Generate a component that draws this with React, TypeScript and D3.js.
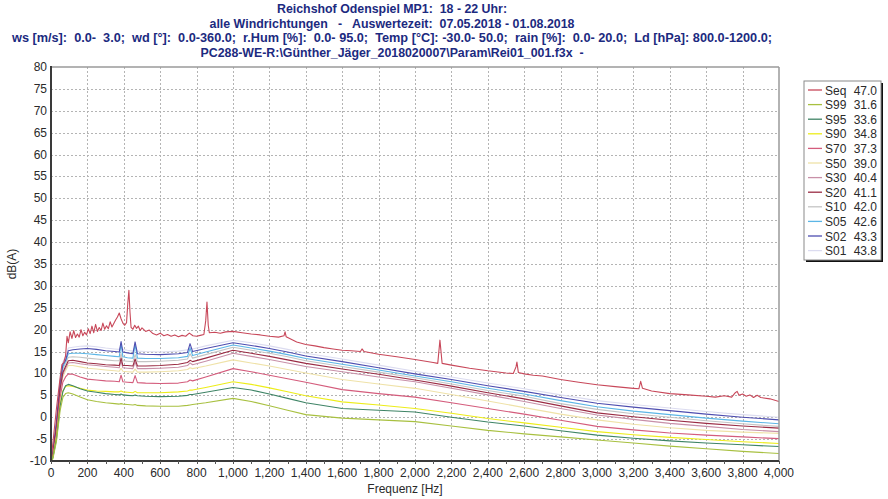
import React from 'react';
import * as d3 from 'd3';

const titleLines = [
  'Reichshof Odenspiel MP1:  18 - 22 Uhr:',
  'alle Windrichtungen   -   Auswertezeit:  07.05.2018 - 01.08.2018',
  'ws [m/s]:  0.0-  3.0;  wd [°]:  0.0-360.0;  r.Hum [%]:  0.0- 95.0;  Temp [°C]: -30.0- 50.0;  rain [%]:  0.0- 20.0;  Ld [hPa]: 800.0-1200.0;',
  'PC288-WE-R:\\Günther_Jäger_2018020007\\Param\\Rei01_001.f3x  -',
];
const titleWidths = [230, 365, 760, 383];

const xTicks = [0, 200, 400, 600, 800, 1000, 1200, 1400, 1600, 1800, 2000, 2200, 2400, 2600, 2800, 3000, 3200, 3400, 3600, 3800, 4000];
const yTicks = [-10, -5, 0, 5, 10, 15, 20, 25, 30, 35, 40, 45, 50, 55, 60, 65, 70, 75, 80];

const freqs = [0, 10, 30, 50, 65, 80, 95, 120, 160, 200, 250, 300, 350, 375, 385, 395, 420, 450, 462, 475, 520, 600, 700, 750, 764, 778, 850, 1000, 1100, 1200, 1300, 1400, 1600, 1800, 2000, 2200, 2400, 2600, 2800, 3000, 3200, 3400, 3600, 3800, 4000];

const seqFreqs = [0, 10, 30, 50, 60, 70, 80, 88, 95, 105, 115, 125, 135, 145, 155, 165, 175, 185, 195, 205, 215, 225, 235, 245, 255, 265, 275, 285, 295, 305, 315, 325, 335, 345, 355, 365, 375, 385, 395, 405, 415, 422, 428, 434, 440, 450, 460, 470, 480, 490, 500, 520, 540, 560, 580, 600, 620, 640, 660, 680, 700, 720, 740, 760, 780, 800, 820, 840, 850, 857, 864, 870, 900, 930, 960, 1000, 1050, 1100, 1150, 1200, 1250, 1280, 1286, 1292, 1350, 1400, 1450, 1500, 1550, 1600, 1650, 1700, 1709, 1720, 1800, 1900, 2000, 2100, 2125, 2137, 2149, 2200, 2300, 2400, 2500, 2540, 2555, 2560, 2568, 2600, 2650, 2700, 2800, 2900, 3000, 3100, 3200, 3230, 3240, 3250, 3300, 3400, 3500, 3600, 3650, 3700, 3740, 3760, 3770, 3780, 3800, 3820, 3840, 3860, 3880, 3900, 3950, 4000];
const seqValues = [-10, -6, 2, 9, 12, 12.5, 14, 18.5, 17, 19.5, 18, 19.8, 18.2, 19, 18.3, 20, 18.6, 19.4, 18.8, 20.2, 19.1, 20.8, 19.3, 21.2, 19.6, 20.5, 19.8, 21.5, 20.1, 20.9, 20.2, 21.8, 20.6, 21.4, 22.2, 22.9, 23.8, 22.5, 21.5, 21.0, 21.6, 26, 29, 24, 20.5, 20.1, 21.0, 20.3, 20.8, 19.8, 20.4, 19.6, 19.9, 19.1, 18.8, 19.2, 18.6, 18.9, 18.5, 18.8, 18.4, 18.7, 18.5, 19.2, 18.6, 18.5, 18.7, 18.9, 22, 26.3, 21, 19.3, 19.4, 19.2, 19.5, 19.6, 19.3, 19.0, 18.8, 18.5, 18.3, 18.6, 19.5, 18.4, 17.2, 16.6, 16.3, 15.9, 15.6, 15.3, 15.2, 15.0, 15.6, 15.0, 14.4, 13.8, 13.2, 12.5, 12.3, 17.6, 12.3, 11.9, 11.2, 10.6, 10.1, 10.0, 11.5, 12.6, 10.2, 9.9, 9.6, 9.4, 8.6, 8.0, 7.4, 7.0, 6.6, 6.5, 8.2, 6.6, 6.0, 5.4, 5.1, 4.8, 4.6, 4.9, 4.6, 5.6, 5.9, 5.0, 5.3, 4.8, 5.1, 4.5, 5.0, 4.5, 4.2, 3.6];

const s01 = [-10, -7.8, -0.6, 8.5, 12.6, 13.8, 15.8, 16.0, 16.2, 16.3, 16.1, 15.8, 15.6, 15.5, 16.4, 15.5, 15.3, 15.1, 16.2, 15.1, 15.0, 14.9, 15.1, 15.4, 16.0, 15.6, 16.3, 17.6, 17.0, 16.3, 15.5, 14.6, 13.3, 11.9, 10.5, 9.2, 7.8, 6.5, 5.1, 3.8, 2.9, 2.1, 1.3, 0.6, 0.0];
const s02 = [-10, -8, -1, 8, 12, 13, 15.2, 15.4, 15.6, 15.7, 15.5, 15.2, 15.0, 14.9, 17.3, 14.9, 14.7, 14.5, 17.2, 14.5, 14.4, 14.3, 14.5, 14.8, 16.8, 15.0, 15.7, 17.0, 16.4, 15.7, 14.9, 14.0, 12.7, 11.3, 9.9, 8.6, 7.2, 5.9, 4.5, 3.2, 2.3, 1.5, 0.7, 0.0, -0.6];
const s05 = [-10, -8.2, -1.5, 7.5, 11.5, 12.8, 14.5, 14.6, 14.6, 14.5, 14.3, 14.1, 13.9, 13.8, 16.8, 13.8, 13.6, 13.5, 16.6, 13.5, 13.4, 13.4, 13.6, 13.9, 15.8, 14.1, 14.9, 16.5, 15.8, 15.1, 14.3, 13.4, 12.1, 10.8, 9.4, 8.1, 6.6, 5.3, 3.8, 2.4, 1.4, 0.6, -0.2, -0.9, -1.5];
const s10 = [-10, -8.3, -1.8, 7.2, 11.0, 12.3, 13.7, 13.8, 13.7, 13.5, 13.3, 13.1, 12.9, 12.9, 14.5, 12.9, 12.8, 12.7, 14.3, 12.7, 12.7, 12.8, 13.0, 13.3, 14.5, 13.5, 14.3, 16.0, 15.3, 14.6, 13.8, 12.9, 11.6, 10.3, 9.0, 7.6, 6.1, 4.8, 3.1, 1.8, 0.8, 0.0, -0.8, -1.5, -2.1];
const s20 = [-10, -8.5, -2.2, 6.5, 10.2, 11.6, 12.9, 13.0, 12.7, 12.4, 12.2, 12.0, 11.9, 11.8, 13.5, 11.8, 11.8, 11.7, 13.3, 11.7, 11.7, 11.8, 12.1, 12.5, 13.0, 12.7, 13.5, 15.3, 14.6, 13.9, 13.1, 12.3, 11.0, 9.8, 8.5, 7.1, 5.6, 4.2, 2.6, 1.0, 0.1, -0.7, -1.4, -2.0, -2.5];
const s30 = [-10, -8.6, -2.5, 6.0, 9.8, 11.2, 12.4, 12.5, 12.2, 12.0, 11.8, 11.6, 11.4, 11.3, 12.8, 11.3, 11.2, 11.1, 12.6, 11.1, 11.1, 11.2, 11.4, 11.8, 12.4, 12.0, 12.8, 14.6, 13.9, 13.2, 12.4, 11.6, 10.4, 9.2, 8.1, 6.6, 5.1, 3.6, 2.0, 0.5, -0.5, -1.4, -2.1, -2.8, -3.3];
const s50 = [-10, -8.8, -3.0, 5.5, 9.2, 10.6, 11.8, 11.8, 11.5, 11.2, 11.0, 10.8, 10.6, 10.5, 11.2, 10.5, 10.4, 10.3, 11.0, 10.3, 10.3, 10.4, 10.6, 10.9, 11.3, 11.1, 11.7, 13.1, 12.4, 11.7, 10.9, 10.1, 8.6, 7.6, 6.6, 5.2, 3.7, 2.2, 0.7, -0.6, -1.6, -2.4, -3.0, -3.4, -3.7];
const s70 = [-10, -9.0, -3.8, 4.5, 8.0, 9.2, 9.9, 9.8, 9.2, 8.7, 8.5, 8.3, 8.2, 8.1, 9.6, 8.1, 8.0, 7.9, 9.5, 7.9, 7.8, 7.7, 7.8, 8.1, 8.5, 8.3, 9.2, 11.1, 10.4, 9.6, 8.8, 8.0, 6.3, 5.4, 4.6, 3.3, 2.0, 0.7, -0.7, -2.1, -2.9, -3.6, -4.1, -4.5, -4.9];
const s90 = [-10, -9.2, -4.5, 3.0, 6.0, 7.0, 7.2, 7.0, 6.6, 6.2, 6.0, 5.9, 5.8, 5.8, 6.0, 5.8, 5.7, 5.6, 5.9, 5.6, 5.6, 5.6, 5.8, 6.0, 6.2, 6.2, 6.8, 8.1, 7.5, 6.7, 5.8, 4.9, 3.5, 2.8, 2.0, 0.9, -0.3, -1.3, -2.3, -3.3, -4.0, -4.6, -5.1, -5.6, -6.0];
const s95 = [-10, -9.3, -5.0, 2.5, 5.8, 7.2, 7.5, 7.2, 6.5, 6.0, 5.7, 5.4, 5.2, 5.1, 5.3, 5.1, 5.0, 4.9, 5.1, 4.9, 4.8, 4.7, 4.8, 5.0, 5.2, 5.2, 5.7, 6.8, 6.2, 5.3, 4.3, 3.3, 2.0, 1.6, 1.2, 0.0, -1.1, -2.0, -3.1, -4.1, -4.8, -5.4, -5.9, -6.3, -6.7];
const s99 = [-10, -9.5, -5.5, 1.5, 4.5, 5.4, 5.6, 5.3, 4.6, 4.0, 3.6, 3.3, 3.1, 3.0, 3.1, 3.0, 2.9, 2.8, 2.9, 2.7, 2.6, 2.5, 2.5, 2.7, 2.8, 2.9, 3.3, 4.3, 3.6, 2.6, 1.6, 0.6, -0.2, -0.6, -1.0, -2.0, -3.0, -3.8, -4.5, -5.2, -5.9, -6.6, -7.2, -7.8, -8.3];

const legendNames = ['Seq', 'S99', 'S95', 'S90', 'S70', 'S50', 'S30', 'S20', 'S10', 'S05', 'S02', 'S01'];
const legendTotals = ['47.0', '31.6', '33.6', '34.8', '37.3', '39.0', '40.4', '41.1', '42.0', '42.6', '43.3', '43.8'];
const legendColors = ['#c8485a', '#a8c040', '#3f8466', '#eded1a', '#d45c7c', '#efe2a8', '#c890a8', '#9a2c44', '#c4c4c4', '#5cb6e6', '#4e4eb0', '#dcdcf0'];

const bandValues: Record<string, number[]> = {
  S01: s01, S02: s02, S05: s05, S10: s10, S20: s20, S30: s30,
  S50: s50, S70: s70, S90: s90, S95: s95, S99: s99,
};
const drawOrder = ['S01', 'S10', 'S50', 'S05', 'S30', 'S02', 'S20', 'S70', 'S90', 'S95', 'S99'];

export default function App() {
  const left = 51, right = 779, top = 67, bottom = 461;
  const x = d3.scaleLinear().domain([0, 4000]).range([left, right]);
  const y = d3.scaleLinear().domain([-10, 80]).range([bottom, top]);
  const line = d3.line<[number, number]>().x(d => x(d[0])).y(d => y(d[1]));
  const fmt = d3.format(',');
  const colorOf = (n: string) => legendColors[legendNames.indexOf(n)];
  const minorTicks = d3.range(0, 4001, 100);

  const font = 'Arial, "Liberation Sans", sans-serif';
  const legX = 804, legY = 81, legW = 77, legH = 179, rowH = 14.6;

  return (
    <svg width={888} height={499} style={{ position: 'absolute', left: 0, top: 0, background: '#fff' }}>
      <defs>
        <clipPath id="plotClip">
          <rect x={left} y={top} width={right - left} height={bottom - top} />
        </clipPath>
      </defs>
      <rect x={0} y={0} width={888} height={499} fill="#fff" />
      {titleLines.map((t, i) => (
        <text key={i} x={392} y={13 + i * 14.5} textAnchor="middle" fontFamily='"Liberation Sans Narrow", "Arial Narrow", Arial, sans-serif'
          fontWeight="bold" fontSize={12} fill="#1c2a80" textLength={titleWidths[i]} lengthAdjust="spacingAndGlyphs"
          style={{ whiteSpace: 'pre' }}>{t}</text>
      ))}
      {/* grid */}
      <g stroke="#b4b4b4" strokeWidth={1} strokeDasharray="2,2">
        {yTicks.filter(v => v > -10 && v < 80).map(v => (
          <line key={'gy' + v} x1={left} x2={right} y1={Math.round(y(v)) + 0.5} y2={Math.round(y(v)) + 0.5} />
        ))}
        {xTicks.filter(v => v > 0 && v < 4000).map(v => (
          <line key={'gx' + v} x1={Math.round(x(v)) + 0.5} x2={Math.round(x(v)) + 0.5} y1={top} y2={bottom} />
        ))}
      </g>
      {/* series */}
      <g clipPath="url(#plotClip)" fill="none" strokeWidth={1.1} strokeLinejoin="round">
        {drawOrder.map(n => (
          <path key={n} d={line(freqs.map((f, i) => [f, bandValues[n][i]]) as [number, number][]) || ''} stroke={colorOf(n)} />
        ))}
        <path d={line(seqFreqs.map((f, i) => [f, seqValues[i]]) as [number, number][]) || ''} stroke={colorOf('Seq')} />
      </g>
      {/* frame */}
      <line x1={left} x2={right} y1={top} y2={top} stroke="#9a9a9a" strokeWidth={1.5} />
      <line x1={right} x2={right} y1={top} y2={bottom} stroke="#9a9a9a" strokeWidth={1.5} />
      <line x1={left} x2={left} y1={top - 1} y2={bottom + 1} stroke="#3a3a3a" strokeWidth={2} />
      <line x1={left} x2={right} y1={bottom} y2={bottom} stroke="#3a3a3a" strokeWidth={2} />
      <g stroke="#555" strokeWidth={1}>
        {minorTicks.map(v => (
          <line key={'mt' + v} x1={Math.round(x(v)) + 0.5} x2={Math.round(x(v)) + 0.5} y1={bottom} y2={bottom + 3} />
        ))}
      </g>
      {/* tick labels */}
      <g fontFamily={font} fontSize={12} fill="#2a2a2a">
        {yTicks.map(v => (
          <text key={'yl' + v} x={47} y={y(v) + 4} textAnchor="end">{v}</text>
        ))}
        {xTicks.map(v => (
          <text key={'xl' + v} x={x(v)} y={477} textAnchor="middle">{fmt(v)}</text>
        ))}
        <text x={405} y={493} textAnchor="middle">Frequenz [Hz]</text>
        <text transform={`translate(16,${(top + bottom) / 2}) rotate(-90)`} textAnchor="middle">dB(A)</text>
      </g>
      {/* legend */}
      <rect x={legX + 2} y={legY + 2} width={legW} height={legH} fill="#111" />
      <rect x={legX} y={legY} width={legW} height={legH} fill="#fff" stroke="#8a8a8a" strokeWidth={1} />
      {legendNames.map((n, i) => {
        const cy = legY + 9 + i * rowH;
        return (
          <g key={n}>
            <line x1={legX + 4} x2={legX + 18} y1={cy} y2={cy} stroke={legendColors[i]} strokeWidth={1.3} />
            <text x={legX + 21} y={cy + 4.5} fontFamily={font} fontSize={12} fill="#2a2a2a">{n}</text>
            <text x={legX + 73} y={cy + 4.5} fontFamily={font} fontSize={12} fill="#2a2a2a" textAnchor="end">{legendTotals[i]}</text>
          </g>
        );
      })}
    </svg>
  );
}
